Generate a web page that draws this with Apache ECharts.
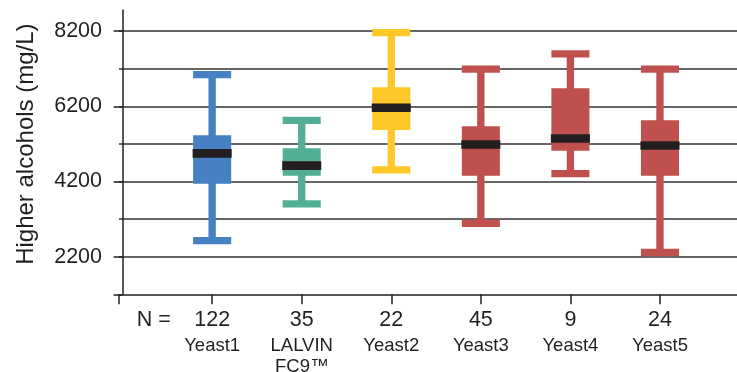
<!DOCTYPE html>
<html><head><meta charset="utf-8">
<script src="https://cdn.jsdelivr.net/npm/echarts@6/dist/echarts.min.js"></script>
<style>html,body{margin:0;padding:0;background:#fff}#c{width:737px;height:372px}</style>
</head><body><div id="c"></div>
<script>
const categories = ['Yeast1', 'LALVIN\nFC9™', 'Yeast2', 'Yeast3', 'Yeast4', 'Yeast5'];
const counts = [122, 35, 22, 45, 9, 24];
const whiskerLow = [2625, 3604, 4507, 3089, 4409, 2311];
const q1 = [4138, 4350, 5571, 4350, 5014, 4350];
const median = [4945, 4621, 6161, 5184, 5343, 5157];
const q3 = [5431, 5086, 6705, 5670, 6678, 5829];
const whiskerHigh = [7040, 5824, 8160, 7188, 7594, 7188];
const yTickLabels = [2200, 4200, 6200, 8200];

const boxColors = ['#4581c3', '#52ae95', '#fec828', '#c0504e', '#c0504e', '#c0504e'];
const ink = '#231f20';
const font = "'Liberation Sans', Arial, sans-serif";

const xMin = -0.04;
const yMin = 1200, yMax = 8760;
const positions = categories.map((c, i) => i + 1);
const data = categories.map((c, i) => [positions[i], whiskerLow[i], q1[i], median[i], q3[i], whiskerHigh[i]]);

const chart = echarts.init(document.getElementById('c'), null, {renderer: 'canvas'});
chart.setOption({
  animation: false,
  backgroundColor: '#fff',
  grid: {left: 119, right: 0, top: 10, bottom: 77.7, containLabel: false, outerBoundsMode: 'none'},
  xAxis: {
    type: 'value', min: xMin, max: 6.86,
    axisLine: {show: true, onZero: false, lineStyle: {color: ink, width: 1.5}},
    axisTick: {show: true, customValues: [xMin].concat(positions), length: 10, lineStyle: {color: ink, width: 1.5}},
    axisLabel: {
      customValues: [xMin].concat(positions), margin: 11.2, color: ink, fontFamily: font,
      formatter: function (v) {
        if (v < 0.5) return '{nl|N =}';
        const i = Math.round(v) - 1;
        return '{n|' + counts[i] + '}\n' + categories[i].split('\n').map(s => '{c|' + s + '}').join('\n');
      },
      rich: {
        nl: {fontSize: 21.5, lineHeight: 30, fontFamily: font, color: ink, padding: [0, 0, 0, 69.6]},
        n: {fontSize: 21.5, lineHeight: 30, fontFamily: font, color: ink},
        c: {fontSize: 18.5, lineHeight: 21, fontFamily: font, color: ink}
      }
    },
    splitLine: {show: false}
  },
  yAxis: [{
    type: 'value', min: yMin, max: yMax, interval: 1000, position: 'left',
    name: 'Higher alcohols (mg/L)', nameLocation: 'middle', nameGap: 81, nameRotate: 90,
    nameTextStyle: {fontFamily: font, fontSize: 24, color: ink, padding: [0, 0, 0, 16]},
    axisLine: {show: true, lineStyle: {color: ink, width: 1.5}},
    axisTick: {show: true, customValues: [yMin].concat(yTickLabels), length: 9, lineStyle: {color: ink, width: 1.5}},
    axisLabel: {customValues: yTickLabels, margin: 17, fontSize: 21.5, color: ink, fontFamily: font,
      formatter: v => String(v)},
    splitLine: {show: false}
  }, {
    type: 'value', min: yMin, max: yMax, interval: 1000, position: 'right',
    axisLine: {show: false}, axisTick: {show: false}, axisLabel: {show: false},
    splitLine: {show: true, showMinLine: false, showMaxLine: false, lineStyle: {color: '#333', width: 1.5}}
  }],
  series: [{
    type: 'custom',
    yAxisIndex: 0,
    data: data,
    encode: {x: 0, y: [1, 2, 3, 4, 5]},
    renderItem: function (params, api) {
      const x = api.value(0);
      const unit = api.size([1, 0])[0];
      const bw = unit * 0.425, ww = unit * 0.082, capH = 7.3, medH = 8.7;
      const pLo = api.coord([x, api.value(1)]);
      const pQ1 = api.coord([x, api.value(2)]);
      const pMed = api.coord([x, api.value(3)]);
      const pQ3 = api.coord([x, api.value(4)]);
      const pHi = api.coord([x, api.value(5)]);
      const cx = pLo[0];
      const col = boxColors[params.dataIndex];
      return {type: 'group', children: [
        {type: 'rect', shape: {x: cx - ww / 2, y: pHi[1], width: ww, height: pLo[1] - pHi[1]}, style: {fill: col}},
        {type: 'rect', shape: {x: cx - bw / 2, y: pHi[1] - capH / 2, width: bw, height: capH}, style: {fill: col}},
        {type: 'rect', shape: {x: cx - bw / 2, y: pLo[1] - capH / 2, width: bw, height: capH}, style: {fill: col}},
        {type: 'rect', shape: {x: cx - bw / 2, y: pQ3[1], width: bw, height: pQ1[1] - pQ3[1]}, style: {fill: col}},
        {type: 'rect', shape: {x: cx - bw / 2 - 0.5, y: pMed[1] - medH / 2, width: bw + 1, height: medH}, style: {fill: ink}}
      ]};
    }
  }]
});
</script>
</body></html>
